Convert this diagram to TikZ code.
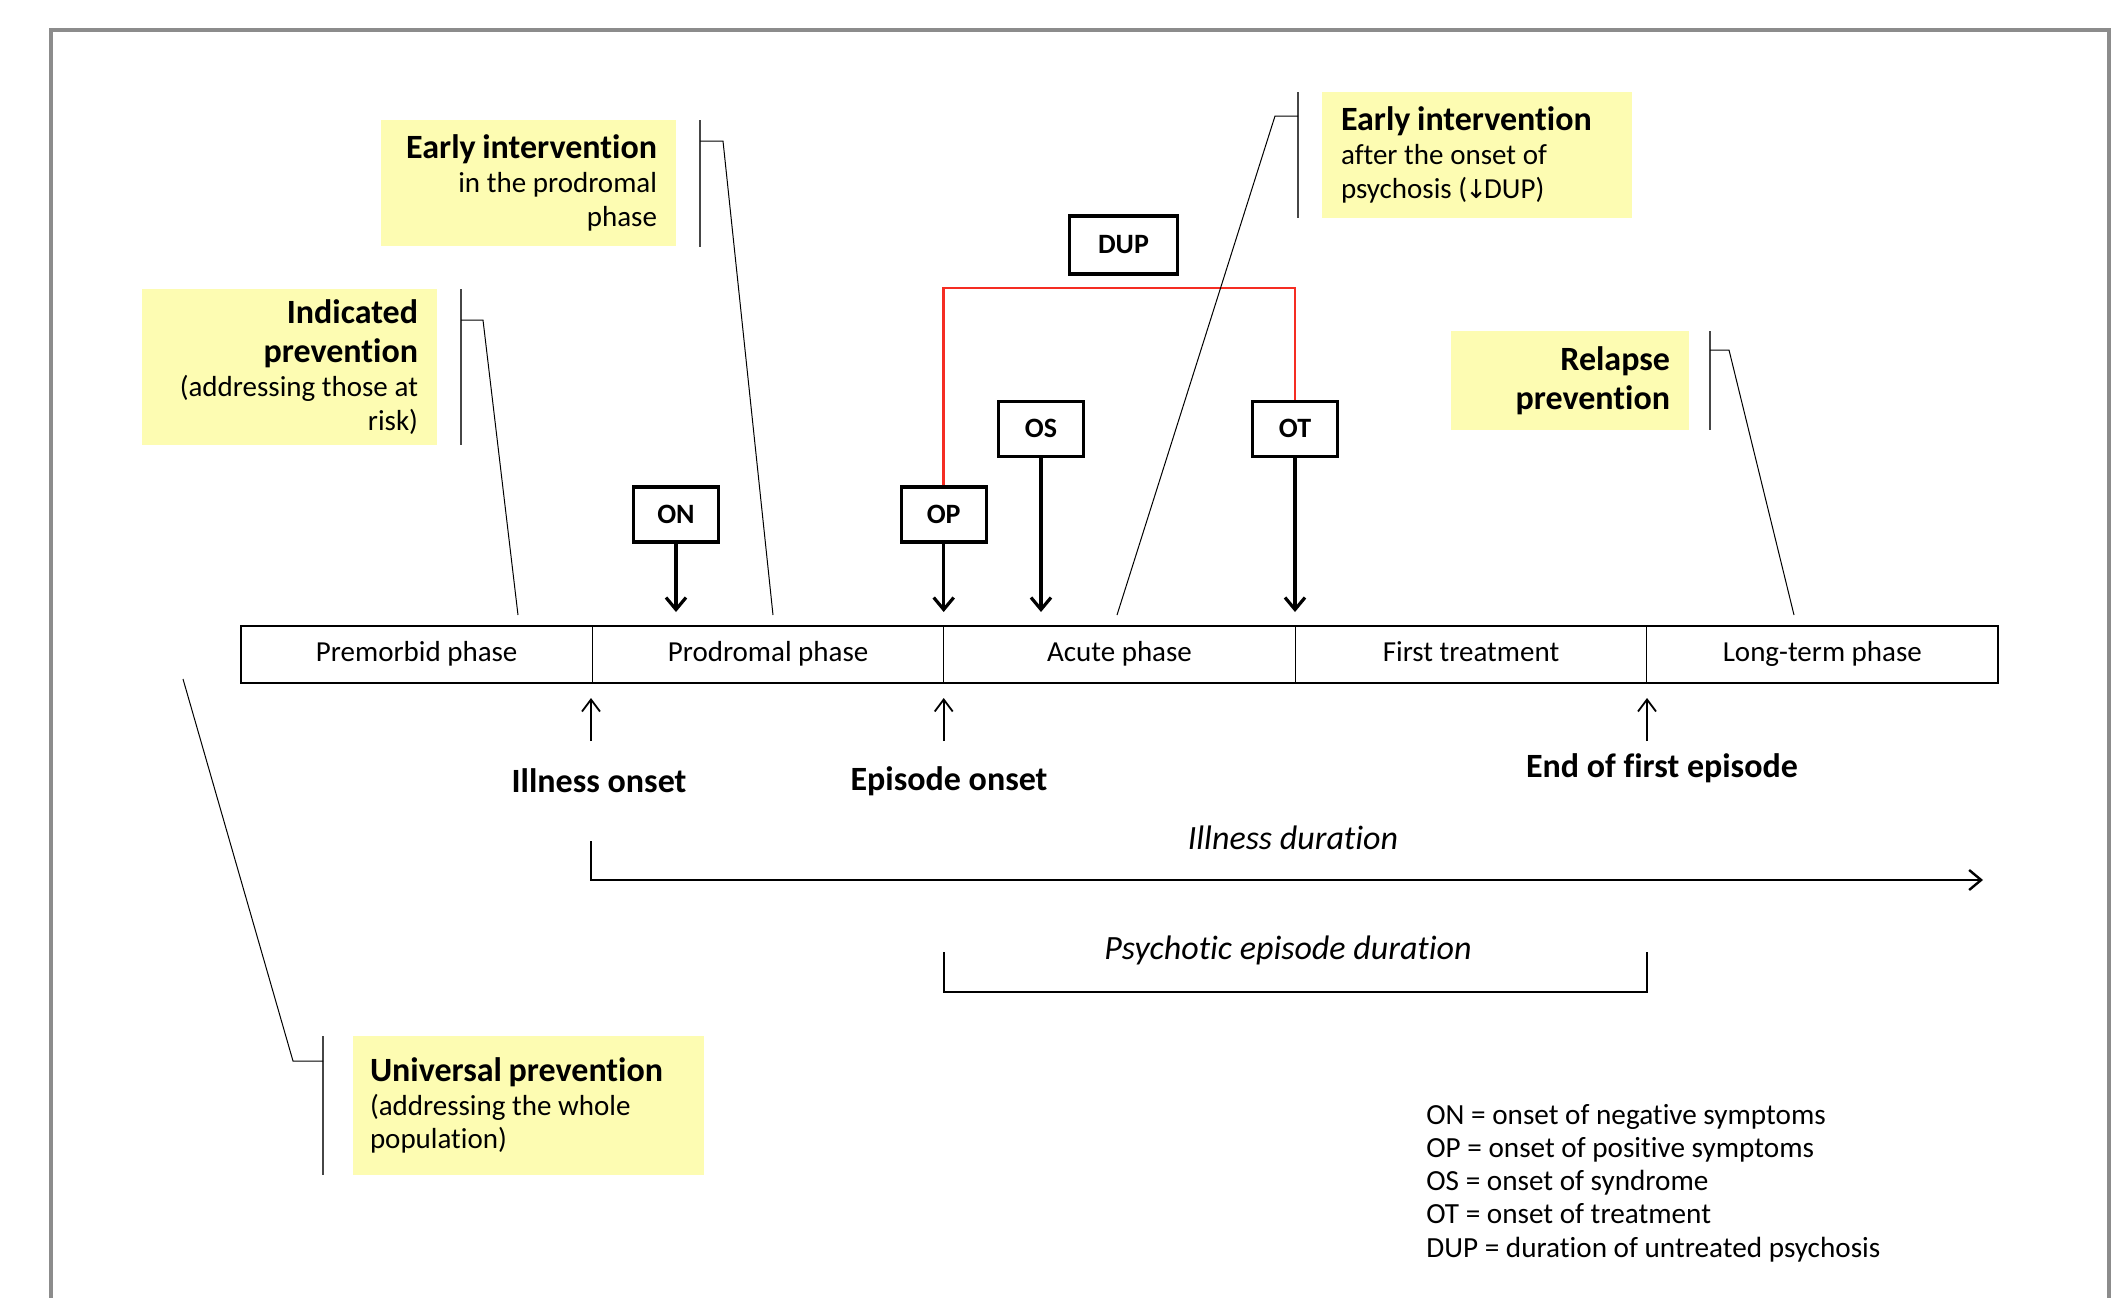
\documentclass[tikz,border=0pt]{standalone}
\usepackage{fontspec}
\setmainfont{Carlito}[Ligatures={NoCommon,NoRequired,NoContextual}]
\newfontfamily\symfont{DejaVu Sans}
\usetikzlibrary{arrows.meta}
\definecolor{noteyellow}{RGB}{253,252,178}
\definecolor{framegray}{RGB}{140,140,140}
\definecolor{dupred}{RGB}{245,45,35}
\definecolor{brackgray}{RGB}{70,70,70}
\newcommand\ttlfont{\bfseries\fontsize{17}{19.6}\selectfont}
\newcommand\bdyfont{\fontsize{14.5}{16.9}\selectfont}
\begin{document}
\begin{tikzpicture}[x=0.5pt,y=-0.5pt,
  phasecell/.style={draw, line width=0.6pt, minimum width=175.7pt, minimum height=28.5pt, inner sep=0pt, text height=10pt, text depth=3pt, font=\bdyfont},
  markbox/.style={draw, line width=1.6pt, minimum width=42.5pt, minimum height=27.5pt, inner sep=0pt, font=\bfseries\fontsize{14}{16}\selectfont},
  notebox/.style={fill=noteyellow, inner xsep=9.5pt, inner ysep=0pt},
  bracketline/.style={draw=brackgray, line width=0.8pt},
  leaderline/.style={draw=black, line width=0.5pt},
  markarrow/.style={line width=1.6pt, -{Straight Barb[length=6pt,width=10pt]}},
  uparrow/.style={line width=0.9pt, -{Straight Barb[length=6pt,width=9pt]}},
  eventlabel/.style={font=\ttlfont, inner sep=0pt},
  durlabel/.style={font=\itshape\fontsize{17}{19}\selectfont, inner sep=0pt},
  durline/.style={line width=1.2pt}
]
\useasboundingbox (0,0) rectangle (2120,1297);
% frame
\draw[framegray, line width=2pt] (51,1300) -- (51,30) -- (2109,30) -- (2109,1300);

% phase bar
\node[phasecell] (p1) at (416.7,654.5) {Premorbid phase};
\node[phasecell] (p2) at (768.1,654.5) {Prodromal phase};
\node[phasecell] (p3) at (1119.5,654.5) {Acute phase};
\node[phasecell] (p4) at (1471.0,654.5) {First treatment};
\node[phasecell] (p5) at (1822.3,654.5) {Long-term phase};
\draw[line width=0.8pt] (p1.north west) rectangle (p5.south east);

% marker boxes
\node[markbox] (on) at (676,514.5) {ON};
\node[markbox] (op) at (943.7,514.5) {OP};
\node[markbox] (os) at (1041,428.6) {OS};
\node[markbox] (ot) at (1295,428.6) {OT};
\node[markbox, minimum width=54pt, minimum height=29pt] (dup) at (1123.5,245) {DUP};

\coordinate (onEnd) at (676,612);
\coordinate (opEnd) at (943.7,612);
\coordinate (osEnd) at (1041,612);
\coordinate (otEnd) at (1295,612);
\draw[markarrow] (on.south) -- (onEnd);
\draw[markarrow] (op.south) -- (opEnd);
\draw[markarrow] (os.south) -- (osEnd);
\draw[markarrow] (ot.south) -- (otEnd);

% DUP red bracket
\draw[dupred, line width=1.35pt] (op.north) |- (1120,288) -| (ot.north);

% event arrows and labels
\node[eventlabel] (illon) at (599,781) {Illness onset};
\node[eventlabel] (epion) at (949,781) {Episode onset};
\node[eventlabel] (endep) at (1662,768) {End of first episode};
\coordinate (u1a) at (591,741); \coordinate (u1b) at (591,698);
\coordinate (u2a) at (943.7,741); \coordinate (u2b) at (943.7,698);
\coordinate (u3a) at (1647,741); \coordinate (u3b) at (1647,698);
\draw[uparrow] (u1a) -- (u1b);
\draw[uparrow] (u2a) -- (u2b);
\draw[uparrow] (u3a) -- (u3b);

% illness duration
\node[durlabel] (illdur) at (1293,838) {Illness duration};
\coordinate (id0) at (591,841);
\coordinate (id1) at (591,880);
\coordinate (id2) at (1983,880);
\draw[durline, -{Straight Barb[length=6pt,width=10pt]}] (id0) -- (id1) -- (id2);

% psychotic episode duration
\node[durlabel] (psydur) at (1288,950) {Psychotic episode duration};
\coordinate (pd0) at (943.7,952);
\coordinate (pd1) at (943.7,992);
\coordinate (pd2) at (1647,992);
\coordinate (pd3) at (1647,952);
\draw[durline] (pd0) -- (pd1) -- (pd2) -- (pd3);

% note boxes
\node[notebox, text width=128.5pt, align=right, minimum height=78pt] (indic) at (289.5,367)
  {{\ttlfont Indicated\par prevention\par}{\bdyfont (addressing those at\par risk)\par}};
\node[notebox, text width=128.5pt, align=right, minimum height=63pt] (eiprod) at (528.5,183)
  {{\ttlfont Early intervention\par}{\bdyfont in the prodromal\par phase\par}};
\node[notebox, text width=136pt, align=left, minimum height=63pt] (eipsy) at (1477,155)
  {{\ttlfont Early intervention\par}{\bdyfont after the onset of\par psychosis (\kern-1pt{\symfont\fontsize{13}{16}\selectfont ↓}\kern-1.5pt DUP)\par}};
\node[notebox, text width=100pt, align=right, minimum height=49.5pt] (relap) at (1570,380.5)
  {{\ttlfont Relapse\par prevention\par}};
\node[notebox, inner xsep=8.5pt, text width=158.5pt, align=left, minimum height=69.5pt] (univ) at (528.5,1105.5)
  {{\ttlfont Universal prevention\par}{\bdyfont (addressing the whole\par population)\par}};

% brackets and leader lines
% indicated
\coordinate (ia) at (461,289); \coordinate (ib) at (461,445);
\coordinate (ic) at (461,320); \coordinate (id) at (483,320); \coordinate (ie) at (518,615);
\draw[bracketline] (ia) -- (ib);
\draw[leaderline] (ic) -- (id) -- (ie);
% early prodromal
\coordinate (ea) at (700,120); \coordinate (eb) at (700,247);
\coordinate (ec) at (700,141); \coordinate (ed) at (723,141); \coordinate (ee) at (773,615);
\draw[bracketline] (ea) -- (eb);
\draw[leaderline] (ec) -- (ed) -- (ee);
% early psychosis
\coordinate (fa) at (1298,92); \coordinate (fb) at (1298,218);
\coordinate (fc) at (1298,116); \coordinate (fd) at (1275,116); \coordinate (fe) at (1117,615);
\draw[bracketline] (fa) -- (fb);
\draw[leaderline] (fc) -- (fd) -- (fe);
% relapse
\coordinate (ra) at (1710,331); \coordinate (rb) at (1710,430);
\coordinate (rc) at (1710,350); \coordinate (rd) at (1729,350); \coordinate (re) at (1794,615);
\draw[bracketline] (ra) -- (rb);
\draw[leaderline] (rc) -- (rd) -- (re);
% universal
\coordinate (ua) at (323,1036); \coordinate (ub) at (323,1175);
\coordinate (uc) at (323,1061); \coordinate (ud) at (293,1061); \coordinate (ue) at (183,679);
\draw[bracketline] (ua) -- (ub);
\draw[leaderline] (uc) -- (ud) -- (ue);

% legend
\node[anchor=west, align=left, inner sep=0pt, font=\fontsize{14.6}{16.6}\selectfont] (legend) at (1426,1183)
  {ON = onset of negative symptoms\\
   OP = onset of positive symptoms\\
   OS = onset of syndrome\\
   OT = onset of treatment\\
   DUP = duration of untreated psychosis};
\end{tikzpicture}
\end{document}
